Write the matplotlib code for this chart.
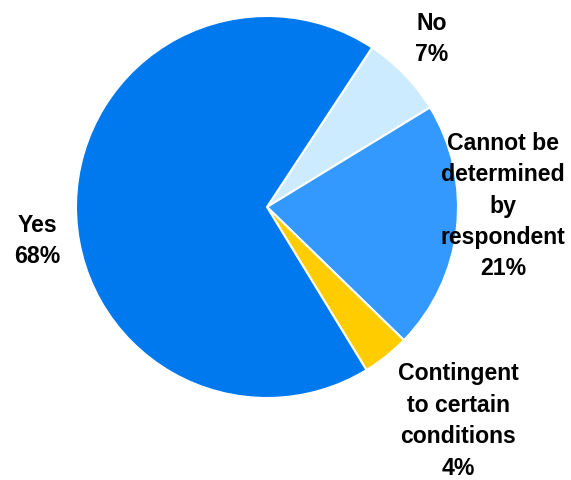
import matplotlib
matplotlib.use("Agg")
import matplotlib.pyplot as plt

categories = ["No", "Cannot be\ndetermined\nby\nrespondent", "Contingent\nto certain\nconditions", "Yes"]
values = [7, 21, 4, 68]
colors = ["#CCEBFF", "#3399FF", "#FFCC00", "#0078EE"]

plt.rcParams['font.family'] = ['Liberation Sans', 'DejaVu Sans']

fig = plt.figure(figsize=(5.71, 4.8), dpi=100)
ax = fig.add_axes([0, 0, 1, 1])
wedges, _ = ax.pie(values, colors=colors, startangle=56.6, counterclock=False,
                   wedgeprops=dict(edgecolor="white", linewidth=1.5))

label_pos = [(0.864, 0.88), (1.236, 0.005), (1.0, -1.12), (-1.204, -0.178)]
for cat, v, (x, y) in zip(categories, values, label_pos):
    ax.text(x, y, f"{cat}\n{v}%", ha="center", va="center", fontsize=16.6,
            fontweight="bold", linespacing=1.47, color="black")

ax.set_xlim(-267/191, (571-267)/191)
ax.set_ylim(-(480-207)/191, 207/191)
ax.set_aspect('auto')
ax.axis('off')
fig.savefig("out.png", dpi=100)
